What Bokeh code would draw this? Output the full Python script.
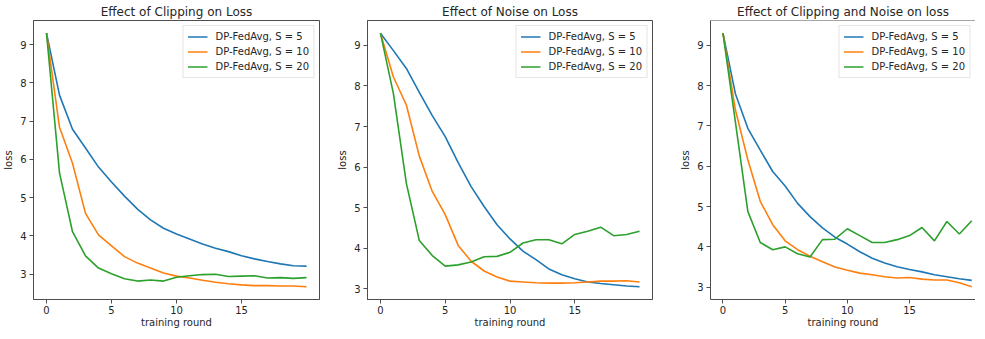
from bokeh.plotting import figure
from bokeh.layouts import row
from bokeh.models import FixedTicker, Range1d, Span, Legend
from bokeh.embed import file_html
from bokeh.resources import INLINE

rounds = list(range(21))
series_labels = ["DP-FedAvg, S = 5", "DP-FedAvg, S = 10", "DP-FedAvg, S = 20"]
titles = ["Effect of Clipping on Loss", "Effect of Noise on Loss", "Effect of Clipping and Noise on loss"]
x_ticks = [0, 5, 10, 15]
y_ticks = [3, 4, 5, 6, 7, 8, 9]

clip_s5 = [9.3, 7.68, 6.79, 6.30, 5.80, 5.41, 5.04, 4.70, 4.42, 4.20, 4.05, 3.92, 3.79, 3.68, 3.59, 3.48, 3.40, 3.33, 3.27, 3.22, 3.21]
clip_s10 = [9.3, 6.84, 5.90, 4.59, 4.03, 3.74, 3.46, 3.29, 3.16, 3.03, 2.95, 2.90, 2.84, 2.79, 2.75, 2.72, 2.70, 2.70, 2.69, 2.69, 2.67]
clip_s20 = [9.3, 5.65, 4.11, 3.48, 3.16, 3.01, 2.88, 2.82, 2.85, 2.82, 2.92, 2.96, 2.99, 3.00, 2.94, 2.95, 2.96, 2.90, 2.91, 2.89, 2.91]

noise_s5 = [9.3, 8.87, 8.43, 7.84, 7.27, 6.75, 6.11, 5.52, 5.03, 4.58, 4.23, 3.93, 3.72, 3.49, 3.35, 3.25, 3.17, 3.13, 3.10, 3.07, 3.05]
noise_s10 = [9.3, 8.22, 7.53, 6.27, 5.40, 4.83, 4.07, 3.68, 3.44, 3.29, 3.19, 3.17, 3.15, 3.14, 3.14, 3.15, 3.17, 3.19, 3.19, 3.20, 3.17]
noise_s20 = [9.3, 7.81, 5.60, 4.19, 3.82, 3.56, 3.59, 3.66, 3.79, 3.80, 3.90, 4.13, 4.21, 4.21, 4.11, 4.34, 4.42, 4.52, 4.31, 4.34, 4.42]

both_s5 = [9.3, 7.80, 6.94, 6.40, 5.87, 5.51, 5.08, 4.75, 4.47, 4.24, 4.07, 3.88, 3.72, 3.60, 3.51, 3.44, 3.38, 3.31, 3.26, 3.21, 3.17]
both_s10 = [9.3, 7.40, 6.16, 5.13, 4.55, 4.15, 3.93, 3.77, 3.63, 3.50, 3.42, 3.35, 3.31, 3.26, 3.23, 3.24, 3.20, 3.18, 3.18, 3.11, 3.01]
both_s20 = [9.3, 7.10, 4.88, 4.11, 3.93, 4.00, 3.83, 3.75, 4.18, 4.19, 4.45, 4.28, 4.11, 4.11, 4.18, 4.28, 4.48, 4.15, 4.63, 4.32, 4.65]

colors = ["#1f77b4", "#ff7f0e", "#2ca02c"]
FONT = "DejaVu Sans"
TXT = "#262626"
LINE = "#4d4d4d"


def make_panel(title, data, frame_w, bl, br, x_end, clipped=False):
    lo = min(min(d) for d in data)
    hi = max(max(d) for d in data)
    m = 0.05 * (hi - lo)
    p = figure(frame_width=frame_w, frame_height=279, output_backend="svg",
               toolbar_location=None, x_range=Range1d(-1, x_end),
               y_range=Range1d(lo - m, hi + m),
               min_border_left=bl, min_border_right=br, min_border_top=0,
               min_border_bottom=0, background_fill_color="white",
               border_fill_color="white")
    p.title.text = title
    p.title.align = "center"
    p.title.text_font = FONT
    p.title.text_font_size = "12px"
    p.title.text_font_style = "normal"
    p.title.text_color = TXT
    p.title.standoff = 4
    p.xgrid.visible = False
    p.ygrid.visible = False
    p.xaxis.ticker = FixedTicker(ticks=x_ticks)
    p.yaxis.ticker = FixedTicker(ticks=y_ticks)
    p.xaxis.axis_label = "training round"
    p.yaxis.axis_label = "loss"
    for ax in (p.xaxis[0], p.yaxis[0]):
        ax.axis_label_text_font = FONT
        ax.axis_label_text_font_size = "10px"
        ax.axis_label_text_font_style = "normal"
        ax.axis_label_text_color = TXT
        ax.major_label_text_font = FONT
        ax.major_label_text_font_size = "10px"
        ax.major_label_text_color = TXT
        ax.minor_tick_line_color = None
        ax.major_tick_in = 0
        ax.major_tick_out = 4
        ax.major_tick_line_color = LINE
        ax.axis_line_color = LINE
        ax.major_label_standoff = 3
        ax.axis_label_standoff = 3
    p.xaxis[0].major_label_standoff = 2
    p.xaxis[0].axis_label_standoff = 0
    if clipped:
        p.outline_line_color = None
        p.add_layout(Span(location=hi + m, dimension="width", line_color=LINE, line_width=1))
    else:
        p.outline_line_color = LINE
        p.outline_line_width = 1
    items = []
    for vals, c, lab in zip(data, colors, series_labels):
        r = p.line(rounds, vals, line_color=c, line_width=1.6)
        items.append((lab, [r]))
    leg = Legend(items=items, location="top_right")
    leg.label_text_font = FONT
    leg.label_text_font_size = "10px"
    leg.label_text_color = TXT
    leg.glyph_width = 20
    leg.glyph_height = 13
    leg.label_height = 13
    leg.spacing = 2
    leg.padding = 4
    leg.margin = 5
    leg.label_standoff = 8
    leg.border_line_color = "#cccccc"
    leg.background_fill_alpha = 0.85
    p.add_layout(leg)
    return p


p1 = make_panel(titles[0], [clip_s5, clip_s10, clip_s20], 286, 29, 15, 21)
p2 = make_panel(titles[1], [noise_s5, noise_s10, noise_s20], 285, 32, 25, 21)
p3 = make_panel(titles[2], [both_s5, both_s10, both_s20], 265, 32, 0, 20.3, clipped=True)

layout = row(p1, p2, p3, spacing=0)
open("out.html", "w").write(file_html(layout, INLINE))
